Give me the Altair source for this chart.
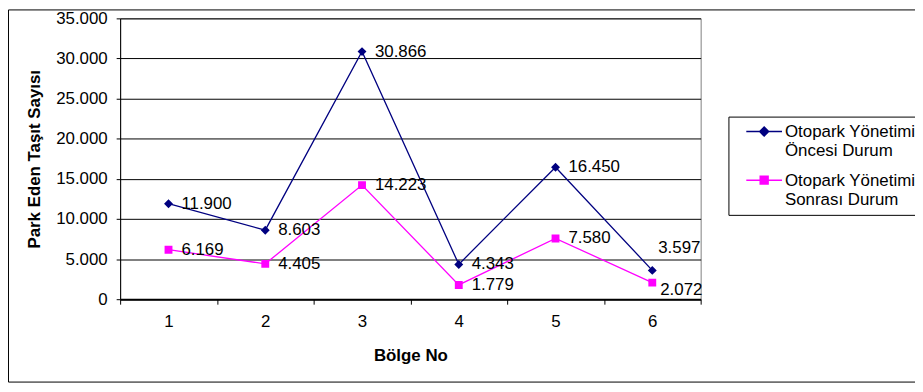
import altair as alt
import pandas as pd

# ---- data ----
bolge = [1, 2, 3, 4, 5, 6]
oncesi = [11900, 8603, 30866, 4343, 16450, 3597]
sonrasi = [6169, 4405, 14223, 1779, 7580, 2072]
seri_adlari = ["Otopark Yönetimi Öncesi Durum", "Otopark Yönetimi Sonrası Durum"]
seri_renkleri = ["#000080", "#FF00FF"]
y_ticks = [0, 5000, 10000, 15000, 20000, 25000, 30000, 35000]

rows = []
for ad, degerler in zip(seri_adlari, [oncesi, sonrasi]):
    for b, v in zip(bolge, degerler):
        rows.append({"bolge": b, "seri": ad, "deger": v})
df = pd.DataFrame(rows)

FONT = "Liberation Sans"

# legend symbol = line + marker (marker shifted up; compensated in plot via yOffset)
K = 1.385
SH = round(-0.33 * K, 3)
L = K
D = round(0.25 * K, 3)
S = round(0.22 * K, 3)
diamond = f"M-{L},{SH}H{L}M0,{SH-D}L{D},{SH}L0,{SH+D}L-{D},{SH}Z"
square = f"M-{L},{SH}H{L}M-{S},{SH-S}H{S}V{SH+S}H-{S}Z"
SYM = 676

x_enc = alt.X("bolge:O", title="Bölge No",
              scale=alt.Scale(type="band", paddingInner=0, paddingOuter=0),
              axis=alt.Axis(tickBand="extent", labelAngle=0, grid=False,
                            domainWidth=2, tickSize=5, labelPadding=10,
                            titlePadding=18))
y_enc = alt.Y("deger:Q", title="Park Eden Taşıt Sayısı",
              scale=alt.Scale(domain=[0, 35000], nice=False),
              axis=alt.Axis(values=y_ticks, grid=True, gridColor="#000000",
                            gridWidth=1, tickSize=4, labelPadding=9,
                            titlePadding=12,
                            labelExpr="replace(format(datum.value, ','), ',', '.')"))
color_enc = alt.Color("seri:N", scale=alt.Scale(domain=seri_adlari, range=seri_renkleri),
                      legend=alt.Legend(
                          title=None, orient="none", legendX=613, legendY=99,
                          strokeColor="#000000", padding=7, symbolOffset=15,
                          labelOffset=7, symbolSize=SYM, symbolStrokeWidth=1.5,
                          labelFont=FONT, labelFontSize=17, labelColor="#000000",
                          labelLimit=400, labelBaseline="alphabetic", rowPadding=13,
                          labelExpr="[substring(datum.label, 0, 16), substring(datum.label, 17)]"))
shape_enc = alt.Shape("seri:N", scale=alt.Scale(domain=seri_adlari, range=[diamond, square]))

base = alt.Chart(df)

lines = base.mark_line(strokeWidth=1.3).encode(x=x_enc, y=y_enc, color=color_enc)
points = base.mark_point(filled=True, size=SYM, opacity=1, yOffset=6).encode(
    x=x_enc, y=y_enc, color=color_enc, shape=shape_enc)

lab = base.transform_calculate(
    etiket="replace(format(datum.deger, ','), ',', '.')")
text_kw = dict(align="left", baseline="middle", font=FONT, fontSize=17, color="#000000")
labels_main = lab.transform_filter("datum.bolge != 6").mark_text(dx=13, **text_kw).encode(
    x=x_enc, y=y_enc, text="etiket:N")
labels_6a = lab.transform_filter(f"datum.bolge == 6 && datum.seri == '{seri_adlari[0]}'").mark_text(
    dx=6, dy=-22, **text_kw).encode(x=x_enc, y=y_enc, text="etiket:N")
labels_6b = lab.transform_filter(f"datum.bolge == 6 && datum.seri == '{seri_adlari[1]}'").mark_text(
    dx=8, dy=8, **text_kw).encode(x=x_enc, y=y_enc, text="etiket:N")

border = alt.Chart(pd.DataFrame({"k": [0]})).mark_rect(
    fillOpacity=0, stroke="#000000", strokeWidth=1).encode(
    x=alt.value(-112.5), x2=alt.value(900), y=alt.value(-8.5), y2=alt.value(366.5))

chart = alt.layer(border, lines, points, labels_main, labels_6a, labels_6b).properties(
    width=585, height=283,
    padding={"left": 113, "top": 9, "right": 216, "bottom": 84},
    autosize=alt.AutoSizeParams(type="none"),
).configure(background="#ffffff").configure_view(
    stroke="#808080", strokeWidth=1
).configure_axis(
    labelFont=FONT, labelFontSize=17, labelColor="#000000",
    titleFont=FONT, titleFontSize=17, titleFontWeight="bold", titleColor="#000000",
    domainColor="#000000", tickColor="#000000",
)

chart.save("out.html", embed_options={"renderer": "svg", "actions": False})
